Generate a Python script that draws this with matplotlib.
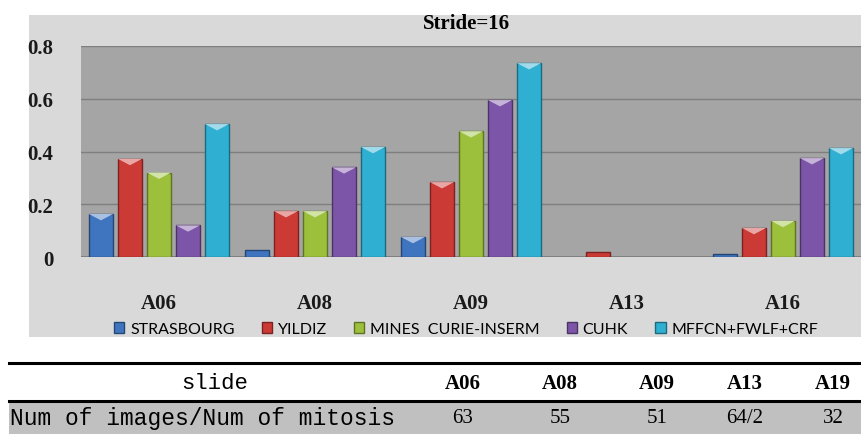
import matplotlib
matplotlib.use("Agg")
import matplotlib.pyplot as plt
import matplotlib.colors as mcolors
from matplotlib.patches import Rectangle
from matplotlib.lines import Line2D
import numpy as np

# per-slide scores for each team (stride = 16)
slides = ['A06', 'A08', 'A09', 'A13', 'A16']
teams = ['STRASBOURG', 'YILDIZ', 'MINES  CURIE-INSERM', 'CUHK', 'MFFCN+FWLF+CRF']
strasbourg = [0.163, 0.027, 0.076, 0.0, 0.010]
yildiz = [0.372, 0.174, 0.284, 0.019, 0.110]
mines = [0.320, 0.174, 0.477, 0.0, 0.137]
cuhk = [0.120, 0.340, 0.595, 0.0, 0.375]
mffcn = [0.504, 0.417, 0.735, 0.0, 0.413]
scores = [strasbourg, yildiz, mines, cuhk, mffcn]
colors = ['#3f74bf', '#cc3a36', '#9cc03c', '#7d55a8', '#2fb0d2']

# table under the chart
table_slides = ['A06', 'A08', 'A09', 'A13', 'A19']
table_counts = ['63', '55', '51', '64/2', '32']

W, H = 861, 435
fig = plt.figure(figsize=(W / 100, H / 100), dpi=100)
fig.patch.set_facecolor('white')

# light grey chart frame
fig.patches.append(Rectangle((29 / W, (H - 338) / H), (W - 29) / W, (338 - 16) / H,
                             transform=fig.transFigure, facecolor='#d9d9d9',
                             edgecolor='none', zorder=-5))

ax = fig.add_axes([81 / W, (H - 258) / H, (W - 81) / W, 211 / H])
ax.set_facecolor('#a5a5a5')
for s in ax.spines.values():
    s.set_visible(False)

x = np.arange(len(slides))
step = 0.186
width = 0.155
cap = 0.024
for i, (vals, col, name) in enumerate(zip(scores, colors, teams)):
    pos = x + (i - 2) * step
    rgb = np.array(mcolors.to_rgb(col))
    dark = tuple(rgb * 0.6)
    light = tuple(1 - (1 - rgb) * 0.45)
    edges = [dark if v > 0 else 'none' for v in vals]
    ax.bar(pos, vals, width, color=col, edgecolor=edges, linewidth=1.0,
           label=name, zorder=3)
    for p, v in zip(pos, vals):
        if v > cap * 1.5:
            ax.fill([p - width / 2, p + width / 2, p], [v, v, v - cap],
                    color=light, zorder=4, linewidth=0)

ax.set_xlim(-0.5, len(slides) - 0.5)
ax.set_ylim(0, 0.8)
ax.set_yticks([0, 0.2, 0.4, 0.6, 0.8])
ax.set_yticklabels(['0', '0.2', '0.4', '0.6', '0.8'])
ax.set_xticks(x)
ax.set_xticklabels(slides)
ax.yaxis.grid(True, color='#7f7f7f', linewidth=1.0, zorder=1)
ax.axhline(0, color='#7a7a7a', linewidth=1.2, zorder=2)
ax.tick_params(axis='y', length=0, pad=20)
ax.tick_params(axis='x', length=0, pad=26)
for lab in ax.get_yticklabels() + ax.get_xticklabels():
    lab.set_fontfamily('Liberation Serif')
    lab.set_fontweight('bold')
    lab.set_fontsize(15)
    lab.set_color('#1a1a1a')

fig.text(466 / W, (H - 24) / H, 'Stride=16', ha='center', va='center',
         fontfamily='Liberation Serif', fontweight='bold', fontsize=15)

leg = fig.legend(*ax.get_legend_handles_labels(), loc='center',
                 bbox_to_anchor=(466 / W, (H - 330) / H), ncol=5, frameon=False,
                 handlelength=0.65, handleheight=0.65, handletextpad=0.35,
                 columnspacing=1.7, prop={'family': 'Lato', 'size': 11.5})

# table
fig.patches.append(Rectangle((9 / W, 0), (W - 9) / W, (H - 402) / H,
                             transform=fig.transFigure, facecolor='#c0c0c0',
                             edgecolor='none', zorder=-5))
for yy in (364, 402):
    fig.lines.append(Line2D([9 / W, 1], [(H - yy) / H] * 2, transform=fig.transFigure,
                            color='black', linewidth=2.2))

fig.text(215 / W, (H - 384) / H, 'slide', ha='center', va='center',
         fontfamily='Liberation Mono', fontsize=16)
fig.text(10 / W, (H - 419) / H, 'Num of images/Num of mitosis', ha='left', va='center',
         fontfamily='Liberation Mono', fontsize=16.5)
col_x = [463, 560, 657, 745, 833]
for cx, s, n in zip(col_x, table_slides, table_counts):
    fig.text(cx / W, (H - 384) / H, s, ha='center', va='center',
             fontfamily='Liberation Serif', fontweight='bold', fontsize=15)
    fig.text(cx / W, (H - 419) / H, n, ha='center', va='center',
             fontfamily='Liberation Serif', fontsize=15)

fig.savefig('out.png', dpi=100)
